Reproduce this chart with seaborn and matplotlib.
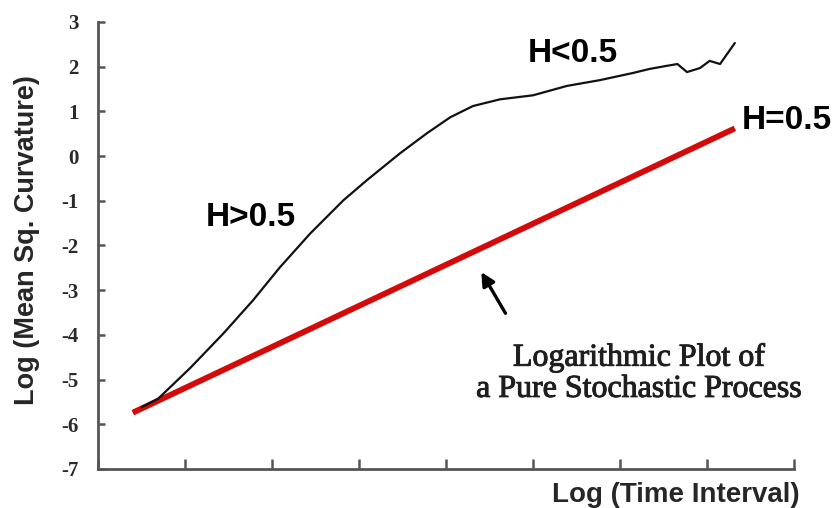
import numpy as np
import pandas as pd
import matplotlib
matplotlib.use("Agg")
import matplotlib.pyplot as plt
import matplotlib.patheffects as pe
import seaborn as sns
from matplotlib import font_manager

# -----------------------------
# Data
# -----------------------------
# black curve: measured process
black_x = [0.50, 0.69, 1.06, 1.44, 1.78, 2.09, 2.44, 2.82, 3.09, 3.47, 3.78, 4.05,
           4.31, 4.62, 5.00, 5.39, 5.77, 6.15, 6.34, 6.54, 6.66, 6.77, 6.92, 7.03,
           7.15, 7.32]
black_y = [-5.62, -5.43, -4.74, -3.97, -3.23, -2.49, -1.73, -0.99, -0.54, 0.06, 0.51, 0.87,
           1.12, 1.27, 1.36, 1.57, 1.70, 1.86, 1.95, 2.02, 2.06, 1.88, 1.97, 2.13,
           2.06, 2.53]

# red line: pure stochastic process (H = 0.5)
red_x = [0.40, 7.32]
red_y = [-5.74, 0.62]

x_ticks = list(range(0, 9))
y_ticks = list(range(-7, 4))

# -----------------------------
# Style / fonts
# -----------------------------
sns.set_style("ticks")
names = {f.name for f in font_manager.fontManager.ttflist}
narrow = "Liberation Sans Narrow" if "Liberation Sans Narrow" in names else "Liberation Sans"
lab_size = 23 if narrow == "Liberation Sans Narrow" else 19.5

fig = plt.figure(figsize=(8.36, 5.08), dpi=100)
ax = fig.add_axes([98 / 836, 1 - 469 / 508, (794 - 98) / 836, (469 - 22) / 508])

df_black = pd.DataFrame({"x": black_x, "y": black_y})
df_red = pd.DataFrame({"x": red_x, "y": red_y})
sns.lineplot(data=df_red, x="x", y="y", ax=ax, color="#d40a0a", linewidth=4.2,
             solid_capstyle="butt", sort=False)
sns.lineplot(data=df_black, x="x", y="y", ax=ax, color="#111111", linewidth=1.6,
             sort=False)

ax.set_xlim(0, 8)
ax.set_ylim(-7, 3)
ax.set_xticks(x_ticks)
ax.set_xticklabels([])
ax.set_yticks(y_ticks)
ax.set_yticklabels([str(v) for v in y_ticks], family="Liberation Serif",
                   fontweight="bold", fontsize=15, color="#2a2a2a")

for s in ["top", "right"]:
    ax.spines[s].set_visible(False)
for s in ["left", "bottom"]:
    ax.spines[s].set_color("#555555")
    ax.spines[s].set_linewidth(2)
ax.tick_params(axis="y", direction="in", length=5, width=1.8, color="#555555", pad=14)
ax.tick_params(axis="x", direction="in", length=7, width=1.8, color="#555555")

ax.set_ylabel("Log (Mean Sq. Curvature)", family=narrow, fontweight="bold",
              fontsize=lab_size, ha="center", va="center")
ax.yaxis.set_label_coords((27 - 98) / 696, (469 - 240) / 447)
ax.set_xlabel("Log (Time Interval)", family=narrow, fontweight="bold",
              fontsize=lab_size + 0.5, ha="center", va="center")
ax.xaxis.set_label_coords((676 - 98) / 696, -(495 - 469) / 447)

# annotations
hfont = dict(family="Liberation Sans", fontweight="bold", fontsize=24,
             ha="center", va="center", color="black")
ax.text(1.76, -1.37, "H>0.5", **hfont)
ax.text(5.46, 2.30, "H<0.5", **hfont)
ax.text(7.92, 0.80, "H=0.5", **hfont)

ax.text(6.22, -4.87, "Logarithmic Plot of\na Pure Stochastic Process",
        family="Liberation Serif", fontsize=23, color="#1e1e1e",
        ha="center", va="center", linespacing=1.1,
        path_effects=[pe.withStroke(linewidth=0.7, foreground="#1e1e1e")])
ax.annotate("", xy=(4.39, -2.54), xytext=(4.70, -3.57),
            arrowprops=dict(arrowstyle="-|>", color="black", lw=2.4,
                            mutation_scale=20))

fig.savefig("out.png", dpi=100)
